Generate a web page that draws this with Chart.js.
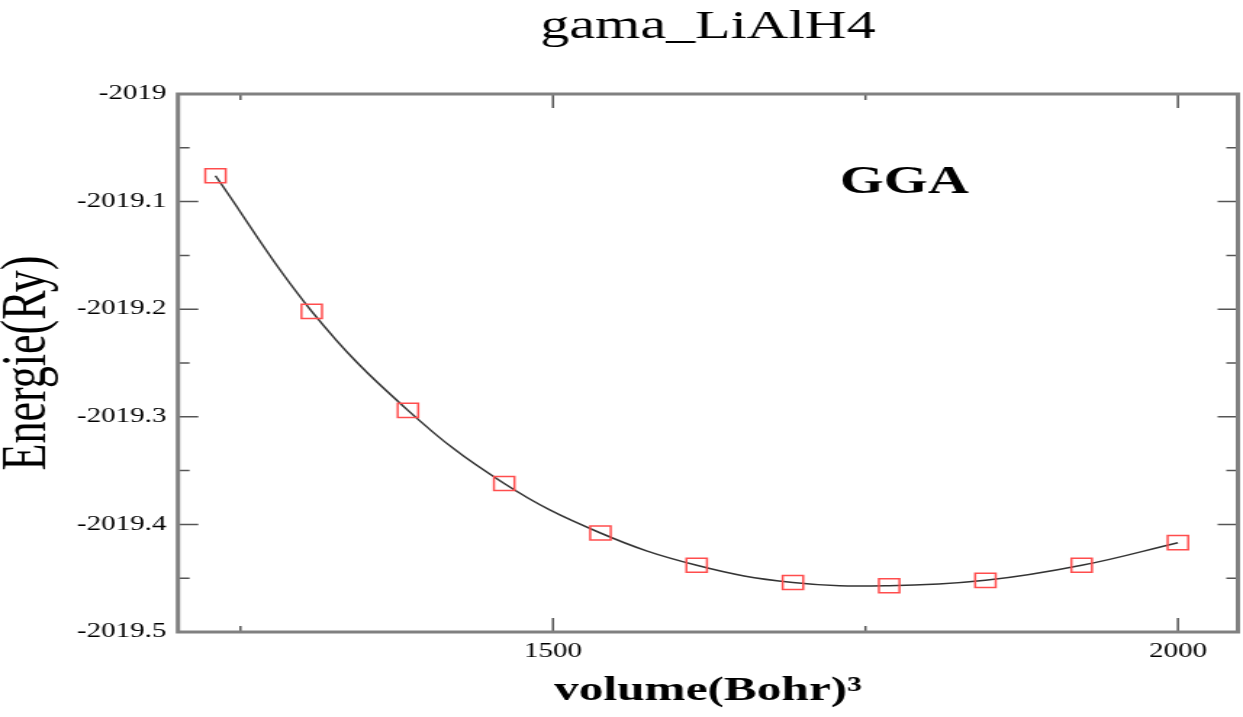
<!DOCTYPE html>
<html>
<head>
<meta charset="utf-8">
<title>gama_LiAlH4</title>
<script src="https://cdn.jsdelivr.net/npm/chart.js@4.4.1/dist/chart.umd.min.js"></script>
<style>
    html, body { margin: 0; padding: 0; background: #fff; overflow: hidden; }
    /* the original plot is stretched sideways, so draw narrow and widen it */
    #wrap { width: 857px; height: 717px; transform: scaleX(1.4504); transform-origin: 0 0; }
</style>
</head>
<body>
<div id="wrap"><canvas id="eos" width="857" height="717"></canvas></div>
<script>
// volume (Bohr^3) and total energy (Ry)
const volumes = [1230, 1307, 1384, 1461, 1538, 1615, 1692, 1769, 1846, 1923, 2000];
const energies = [-2019.076, -2019.202, -2019.294, -2019.362, -2019.408, -2019.438,
    -2019.454, -2019.457, -2019.452, -2019.438, -2019.417];

const xTickValues = [1500, 2000];
const xTickLabels = ['1500', '2000'];
const xMinorTicks = [1250, 1750];
const yTickValues = [-2019.5, -2019.4, -2019.3, -2019.2, -2019.1, -2019];
const yTickLabels = ['-2019.5', '-2019.4', '-2019.3', '-2019.2', '-2019.1', '-2019'];
const yMinorTicks = [-2019.45, -2019.35, -2019.25, -2019.15, -2019.05];

const plotTitle = 'gama_LiAlH4';
const xTitle = 'volume(Bohr)\u00B3';
const yTitle = 'Energie(Ry)';
const noteText = 'GGA';
const notePos = { x: 1781, y: -2019.092 };

const serif = "'Liberation Serif', 'Times New Roman', serif";
Chart.defaults.font.family = serif;
Chart.defaults.color = '#000';

// grace-like frame with inward ticks, plus the GGA note
const frameAndTicks = {
    id: 'frameAndTicks',
    afterDraw(chart) {
        const { ctx, chartArea: a, scales: { x, y } } = chart;
        ctx.save();
        ctx.strokeStyle = '#555';
        ctx.lineWidth = 1.5;
        ctx.beginPath();
        const tickX = (v, len) => {
            const px = x.getPixelForValue(v);
            ctx.moveTo(px, a.bottom); ctx.lineTo(px, a.bottom - len);
            ctx.moveTo(px, a.top); ctx.lineTo(px, a.top + len);
        };
        const tickY = (v, len) => {
            const py = y.getPixelForValue(v);
            ctx.moveTo(a.left, py); ctx.lineTo(a.left + len, py);
            ctx.moveTo(a.right, py); ctx.lineTo(a.right - len, py);
        };
        xTickValues.forEach(v => tickX(v, 14));
        xMinorTicks.forEach(v => tickX(v, 6));
        yTickValues.forEach(v => tickY(v, 14));
        yMinorTicks.forEach(v => tickY(v, 8));
        ctx.stroke();

        ctx.strokeStyle = '#808080';
        ctx.lineWidth = 3;
        ctx.strokeRect(a.left, a.top, a.right - a.left, a.bottom - a.top);

        ctx.fillStyle = '#000';
        ctx.font = 'bold 39px ' + serif;
        ctx.textAlign = 'center';
        ctx.textBaseline = 'alphabetic';
        ctx.fillText(noteText, x.getPixelForValue(notePos.x), y.getPixelForValue(notePos.y));
        ctx.restore();
    }
};

function drawChart() {
    new Chart(document.getElementById('eos'), {
        type: 'scatter',
        data: {
            datasets: [{
                data: volumes.map((v, i) => ({ x: v, y: energies[i] })),
                showLine: true,
                tension: 0.4,
                borderColor: '#333',
                borderWidth: 1.5,
                pointStyle: 'rect',
                pointRadius: 10,
                pointBorderWidth: 1.5,
                pointBorderColor: '#ff4d4d',
                pointBackgroundColor: 'rgba(0,0,0,0)'
            }]
        },
        options: {
            responsive: false,
            animation: false,
            events: [],
            layout: { autoPadding: false, padding: { left: 0, right: 3.5, top: 0, bottom: 0 } },
            plugins: {
                legend: { display: false },
                tooltip: { enabled: false },
                title: {
                    display: true,
                    text: plotTitle,
                    fullSize: false,
                    color: '#000',
                    font: { size: 40, weight: 'normal' },
                    padding: { top: 3.5, bottom: 42.5 }
                }
            },
            scales: {
                x: {
                    type: 'linear',
                    min: 1200,
                    max: 2048,
                    grid: { display: false, drawTicks: false },
                    border: { display: false },
                    afterBuildTicks: s => { s.ticks = xTickValues.map(v => ({ value: v })); },
                    afterFit: s => { s.height = 85; s.paddingLeft = 0; s.paddingRight = 0; },
                    ticks: {
                        padding: 8,
                        font: { size: 20 },
                        callback: (v, i) => xTickLabels[i]
                    },
                    title: {
                        display: true,
                        text: xTitle,
                        font: { size: 34, weight: 'bold' },
                        padding: { top: 0, bottom: 5 }
                    }
                },
                y: {
                    type: 'linear',
                    min: -2019.5,
                    max: -2019,
                    grid: { display: false, drawTicks: false },
                    border: { display: false },
                    afterBuildTicks: s => { s.ticks = yTickValues.map(v => ({ value: v })); },
                    afterFit: s => { s.width = 122.7; s.paddingTop = 0; s.paddingBottom = 0; },
                    ticks: {
                        padding: 8,
                        font: { size: 20 },
                        callback: (v, i) => yTickLabels[i]
                    },
                    title: {
                        display: true,
                        text: yTitle,
                        font: { size: 44, lineHeight: 0.9 },
                        padding: { top: 0, bottom: 0 }
                    }
                }
            }
        },
        plugins: [frameAndTicks]
    });
}

Promise.all([
    document.fonts.load("40px 'Liberation Serif'"),
    document.fonts.load("bold 40px 'Liberation Serif'")
]).then(drawChart, drawChart);
</script>
</body>
</html>
